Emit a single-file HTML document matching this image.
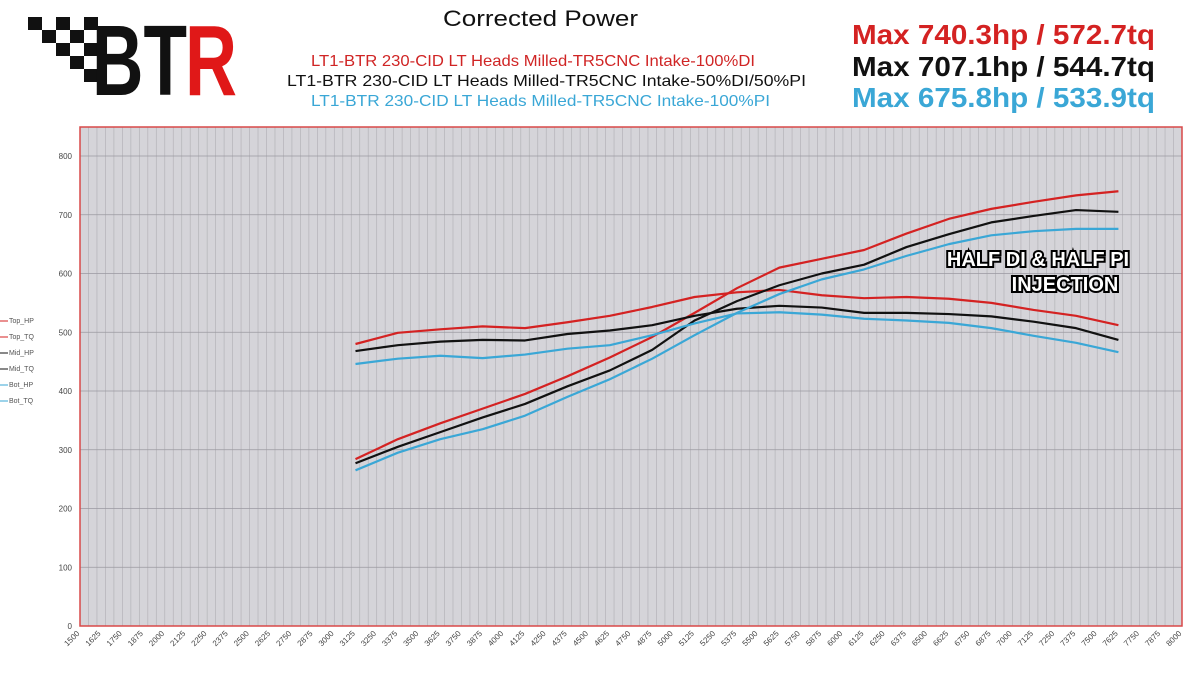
<!DOCTYPE html>
<html><head><meta charset="utf-8"><style>
body{margin:0;background:#fff;width:1200px;height:675px;overflow:hidden;font-family:"Liberation Sans",sans-serif;}
svg text{font-family:"Liberation Sans",sans-serif;}
</style></head><body>
<svg id="c" width="1200" height="675">
<g id="logo">
<rect x="28" y="17" width="14" height="13" fill="#111"/><rect x="56" y="17" width="14" height="13" fill="#111"/><rect x="84" y="17" width="14" height="13" fill="#111"/>
<rect x="42" y="30" width="14" height="13" fill="#111"/><rect x="70" y="30" width="14" height="13" fill="#111"/>
<rect x="56" y="43" width="14" height="13" fill="#111"/><rect x="84" y="43" width="14" height="13" fill="#111"/>
<rect x="70" y="56" width="14" height="13" fill="#111"/><rect x="84" y="69" width="14" height="13" fill="#111"/>
<text x="92" y="95" font-size="100" font-weight="bold" fill="#111" textLength="95" lengthAdjust="spacingAndGlyphs">BT</text>
<text x="185" y="95" font-size="100" font-weight="bold" fill="#e01818" textLength="52" lengthAdjust="spacingAndGlyphs">R</text>
</g>
<text x="443" y="26" font-size="22" fill="#111" textLength="195" lengthAdjust="spacingAndGlyphs">Corrected Power</text>
<text x="311" y="66" font-size="16" fill="#d02525" textLength="444" lengthAdjust="spacingAndGlyphs">LT1-BTR 230-CID LT Heads Milled-TR5CNC Intake-100%DI</text>
<text x="287" y="86" font-size="16" fill="#111" textLength="519" lengthAdjust="spacingAndGlyphs">LT1-BTR 230-CID LT Heads Milled-TR5CNC Intake-50%DI/50%PI</text>
<text x="311" y="106" font-size="16" fill="#3aa7d6" textLength="459" lengthAdjust="spacingAndGlyphs">LT1-BTR 230-CID LT Heads Milled-TR5CNC Intake-100%PI</text>
<g font-size="28" font-weight="bold">
<text x="852" y="44" fill="#d42222" textLength="303" lengthAdjust="spacingAndGlyphs">Max  740.3hp / 572.7tq</text>
<text x="852" y="76" fill="#111" textLength="303" lengthAdjust="spacingAndGlyphs">Max  707.1hp / 544.7tq</text>
<text x="852" y="107" fill="#3aa7d6" textLength="303" lengthAdjust="spacingAndGlyphs">Max  675.8hp / 533.9tq</text>
</g>
<g id="plot"></g>
<g font-size="7" fill="#555">
<line x1="0" y1="321" x2="8" y2="321" stroke="#d42222"/><text x="9" y="323">Top_HP</text>
<line x1="0" y1="337" x2="8" y2="337" stroke="#d42222"/><text x="9" y="339">Top_TQ</text>
<line x1="0" y1="353" x2="8" y2="353" stroke="#111"/><text x="9" y="355">Mid_HP</text>
<line x1="0" y1="369" x2="8" y2="369" stroke="#111"/><text x="9" y="371">Mid_TQ</text>
<line x1="0" y1="385" x2="8" y2="385" stroke="#3aa7d6"/><text x="9" y="387">Bot_HP</text>
<line x1="0" y1="401" x2="8" y2="401" stroke="#3aa7d6"/><text x="9" y="403">Bot_TQ</text>
</g>
<g font-size="20" font-weight="bold" fill="#fff" stroke="#000" stroke-width="4" paint-order="stroke" text-anchor="middle">
<text x="1038" y="266">HALF DI &amp; HALF PI</text>
<text x="1065" y="291">INJECTION</text>
</g>
</svg>
<script>
const rpm=[3125,3375,3625,3875,4125,4375,4625,4875,5125,5375,5625,5875,6125,6375,6625,6875,7125,7375,7625];
const topHP=[284,318,345,370,395,425,457,492,533,575,610,625,640,668,693,710,722,733,740];
const topTQ=[480,499,505,510,507,517,528,543,560,568,572,563,558,560,557,550,538,528,512];
const midHP=[277,305,330,355,378,408,435,470,520,553,580,600,615,645,667,687,698,708,705];
const midTQ=[468,478,484,487,486,497,503,512,528,540,545,542,533,533,531,527,518,507,487];
const botHP=[265,295,318,335,358,390,420,455,495,533,565,590,607,630,650,665,672,676,676];
const botTQ=[446,455,460,456,462,472,478,495,515,532,534,530,523,520,516,507,494,482,466];
const yTicks=[0,100,200,300,400,500,600,700,800];
const X0=80,X1=1182,Y0=626,YT=127;
const xs=r=>X0+(r-1500)/6500*(X1-X0);
const ys=v=>Y0-v*0.5875;
const NS="http://www.w3.org/2000/svg";
const g=document.getElementById('plot');
function mk(t,a){const e=document.createElementNS(NS,t);for(const k in a)e.setAttribute(k,a[k]);g.appendChild(e);return e;}
let bg=mk('rect',{x:X0,y:YT,width:X1-X0,height:Y0-YT,fill:'#d5d4d9'});


for(let r=1500;r<=8000;r+=50){mk('line',{x1:xs(r),x2:xs(r),y1:YT,y2:Y0,stroke:'#b4b3b8','stroke-width':0.7});}
for(const v of yTicks){mk('line',{x1:X0,x2:X1,y1:ys(v),y2:ys(v),stroke:'#9a99a0','stroke-width':0.8});
const t=mk('text',{x:X0-8,y:ys(v)+3,'font-size':8,'text-anchor':'end',fill:'#444'});t.textContent=v;

}
for(let r=1500;r<=8000;r+=125){const x=xs(r);const t=mk('text',{x:x,y:Y0+8,'font-size':8,'text-anchor':'end',fill:'#444',transform:`rotate(-45 ${x} ${Y0+8})`});t.textContent=r;

}
const series=[[topTQ,'#d42222','top-tq'],[topHP,'#d42222','top-hp'],[midTQ,'#111','mid-tq'],[midHP,'#111','mid-hp'],[botTQ,'#3aa7d6','bot-tq'],[botHP,'#3aa7d6','bot-hp']];
for(const [d,c,n] of series){const p=mk('polyline',{points:rpm.map((r,i)=>xs(r)+','+ys(d[i])).join(' '),fill:'none',stroke:c,'stroke-width':2.2,'stroke-linejoin':'round'});

}
mk('rect',{x:X0,y:YT,width:X1-X0,height:Y0-YT,fill:'none',stroke:'#d84848','stroke-width':1.5});
</script>
</body></html>
